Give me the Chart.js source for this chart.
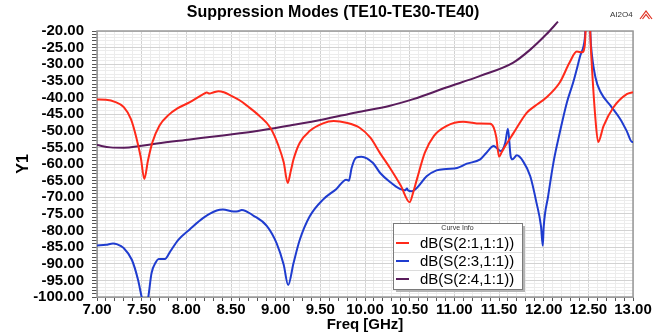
<!DOCTYPE html>
<html><head><meta charset="utf-8">
<script src="https://cdn.jsdelivr.net/npm/chart.js@4/dist/chart.umd.min.js"></script>
<style>html,body{margin:0;padding:0;background:#fff;}canvas{display:block;}</style>
</head><body>
<canvas id="c" width="666" height="335"></canvas>
<script>
const chartTitle = 'Suppression Modes (TE10-TE30-TE40)';
const projectTag = 'AI2O4';
const xAxisTitle = 'Freq [GHz]';
const yAxisTitle = 'Y1';
const legendTitle = 'Curve Info';
const seriesNames = ['dB(S(2:1,1:1))', 'dB(S(2:3,1:1))', 'dB(S(2:4,1:1))'];
const seriesColors = ['#ff2a1a', '#1f3ccf', '#5a1c5c'];

const s21Freq = [7.00,7.10,7.20,7.30,7.38,7.44,7.49,7.53,7.57,7.62,7.70,7.80,7.90,8.04,8.19,8.23,8.26,8.30,8.36,8.42,8.49,8.60,8.68,8.82,8.94,9.03,9.09,9.135,9.17,9.20,9.27,9.38,9.53,9.65,9.79,9.94,10.06,10.17,10.28,10.40,10.50,10.54,10.58,10.67,10.77,10.91,11.10,11.25,11.40,11.44,11.47,11.50,11.53,11.57,11.66,11.81,11.90,12.03,12.18,12.29,12.37,12.43,12.46,12.48,12.51,12.53,12.58,12.61,12.67,12.78,12.93,13.00];
const s21dB   = [-40.6,-40.7,-41.3,-42.9,-46.5,-52.0,-58.0,-64.5,-59.0,-53.5,-48.4,-45.3,-43.3,-41.4,-39.0,-38.5,-38.8,-38.5,-38.1,-38.4,-39.3,-40.9,-42.5,-45.6,-49.1,-54.4,-59.5,-65.7,-62.0,-58.6,-53.6,-50.1,-47.8,-47.1,-47.6,-49.1,-52.1,-56.8,-61.2,-66.5,-71.5,-68.5,-64.7,-56.6,-51.6,-48.6,-47.3,-47.8,-47.9,-49.0,-52.0,-57.8,-56.5,-54.6,-50.8,-44.6,-42.6,-40.0,-35.5,-29.5,-26.2,-26.4,-24.4,-15.0,-15.0,-26.0,-46.6,-53.4,-48.6,-43.0,-39.0,-38.4];

const s31Freq = [7.00,7.10,7.18,7.22,7.30,7.39,7.46,7.50,7.53,7.56,7.575,7.61,7.66,7.69,7.76,7.82,7.91,8.04,8.19,8.34,8.41,8.53,8.58,8.62,8.75,8.90,9.01,9.09,9.14,9.20,9.27,9.38,9.53,9.68,9.79,9.82,9.85,9.90,9.96,10.09,10.17,10.28,10.39,10.45,10.47,10.48,10.52,10.58,10.69,10.80,10.91,11.03,11.14,11.29,11.36,11.44,11.47,11.52,11.57,11.60,11.63,11.65,11.70,11.77,11.85,11.92,11.97,11.99,12.00,12.05,12.11,12.18,12.26,12.33,12.41,12.46,12.48,12.51,12.53,12.58,12.64,12.75,12.86,12.93,12.99,13.00];
const s31dB   = [-84.5,-84.3,-83.9,-84.1,-85.3,-88.8,-94.9,-100.0,-103.0,-102.0,-99.9,-92.9,-89.5,-88.6,-88.6,-86.3,-82.8,-79.6,-76.2,-74.0,-73.7,-74.3,-74.2,-73.8,-75.5,-78.6,-83.8,-90.3,-96.4,-89.8,-82.8,-75.8,-70.7,-67.5,-64.7,-65.0,-61.2,-58.1,-57.8,-59.7,-62.7,-65.4,-67.5,-67.9,-67.4,-67.9,-68.2,-67.2,-63.7,-61.9,-61.5,-61.2,-59.9,-58.6,-56.6,-54.6,-55.1,-56.1,-53.6,-49.4,-57.6,-58.6,-57.4,-59.2,-63.7,-71.7,-78.7,-84.6,-79.0,-69.7,-59.5,-50.6,-41.5,-35.5,-27.4,-22.4,-15.0,-15.0,-24.4,-34.0,-38.5,-42.5,-46.6,-50.1,-53.4,-53.4];

const s41Freq = [7.00,7.15,7.30,7.48,7.67,8.04,8.41,8.79,9.16,9.53,9.90,10.28,10.54,10.91,11.29,11.66,11.85,12.03,12.16];
const s41dB   = [-54.3,-55.0,-55.1,-54.6,-53.8,-52.6,-51.4,-50.1,-48.4,-46.6,-44.5,-42.5,-40.5,-37.0,-33.5,-29.5,-25.6,-21.0,-17.2];

const xMin = 7, xMax = 13, xMajor = 0.5, xMinor = 0.1;
const yMin = -100, yMax = -20, yMajor = 5, yMinor = 1;

const FONT = "'Liberation Sans', Arial, sans-serif";
const toPts = (fx, fy) => fx.map((f, i) => ({x: f, y: fy[i]}));
const isMajor = (v, step) => Math.abs(v / step - Math.round(v / step)) < 1e-6;

const frameAndText = {
  id: 'frameAndText',
  beforeDatasetsDraw(chart) {
    const {ctx, chartArea: a} = chart;
    ctx.save();
    ctx.strokeStyle = '#9a9a9a';
    ctx.lineWidth = 1.5;
    ctx.strokeRect(a.left, a.top, a.right - a.left, a.bottom - a.top);
    ctx.restore();
  },
  afterDraw(chart) {
    const {ctx} = chart;
    ctx.save();
    ctx.fillStyle = '#000';
    ctx.font = 'bold 16px ' + FONT;
    ctx.textAlign = 'center';
    ctx.textBaseline = 'middle';
    ctx.fillText(chartTitle, chart.width / 2, 13);
    ctx.font = '8px ' + FONT;
    ctx.textAlign = 'left';
    ctx.fillStyle = '#333';
    ctx.fillText(projectTag, 610, 15);
    // small logo
    ctx.strokeStyle = '#e03020';
    ctx.lineWidth = 1.2;
    ctx.beginPath();
    ctx.moveTo(640, 19); ctx.lineTo(646, 11); ctx.lineTo(652, 19);
    ctx.moveTo(642.5, 19); ctx.lineTo(646, 14.5); ctx.lineTo(649.5, 19);
    ctx.stroke();
    // legend box (Curve Info)
    const bx = 393, by = 223, bw = 129, bh = 66;
    ctx.fillStyle = '#b4b4b4';
    ctx.fillRect(bx + 3, by + 3, bw, bh);
    ctx.fillStyle = '#fff';
    ctx.fillRect(bx, by, bw, bh);
    ctx.strokeStyle = '#7a7a7a';
    ctx.lineWidth = 1;
    ctx.strokeRect(bx + 0.5, by + 0.5, bw, bh);
    ctx.fillStyle = '#333';
    ctx.font = '7px ' + FONT;
    ctx.textAlign = 'center';
    ctx.fillText(legendTitle, bx + bw / 2, by + 5.5);
    ctx.strokeStyle = '#dcdcdc';
    [234, 252, 270].forEach(yy => {
      ctx.beginPath(); ctx.moveTo(bx + 1, yy + 0.5); ctx.lineTo(bx + bw, yy + 0.5); ctx.stroke();
    });
    chart.data.datasets.forEach((ds, i) => {
      const cy = 243 + i * 18;
      ctx.strokeStyle = ds.borderColor;
      ctx.lineWidth = 2;
      ctx.beginPath(); ctx.moveTo(396, cy); ctx.lineTo(409, cy); ctx.stroke();
      ctx.fillStyle = '#000';
      ctx.font = '15px ' + FONT;
      ctx.textAlign = 'left';
      ctx.fillText(ds.label, 420, cy + 1);
    });
    ctx.restore();
  }
};

new Chart(document.getElementById('c'), {
  type: 'line',
  data: {
    datasets: [
      {label: seriesNames[0], data: toPts(s21Freq, s21dB), borderColor: seriesColors[0]},
      {label: seriesNames[1], data: toPts(s31Freq, s31dB), borderColor: seriesColors[1]},
      {label: seriesNames[2], data: toPts(s41Freq, s41dB), borderColor: seriesColors[2],
       clip: {left: 0, top: 10, right: 0, bottom: 0}}
    ]
  },
  options: {
    responsive: false,
    animation: false,
    devicePixelRatio: 1,
    layout: {padding: {left: 0, right: 33, top: 31, bottom: 0}},
    elements: {
      point: {radius: 0},
      line: {borderWidth: 2, fill: false, cubicInterpolationMode: 'monotone'}
    },
    plugins: {legend: {display: false}, title: {display: false}, tooltip: {enabled: false}},
    scales: {
      x: {
        type: 'linear', min: xMin, max: xMax,
        afterFit: s => { s.height = 38; },
        border: {display: true, color: '#9a9a9a', width: 1},
        grid: {
          color: c => isMajor(c.tick.value, xMajor) ? '#d2d2d2' : '#ececec',
          tickColor: '#555', tickLength: 4, lineWidth: 1
        },
        ticks: {
          stepSize: xMinor, autoSkip: false, maxRotation: 0, maxTicksLimit: 1000, padding: 0,
          color: '#000', font: {family: FONT, size: 15, weight: 'bold'},
          callback: v => isMajor(v, xMajor) ? v.toFixed(2) : ''
        },
        title: {display: true, text: xAxisTitle, color: '#000', font: {family: FONT, size: 15, weight: 'bold'}, padding: {top: 0, bottom: 1}}
      },
      y: {
        type: 'linear', min: yMin, max: yMax,
        afterFit: s => { s.width = 97; },
        border: {display: true, color: '#9a9a9a', width: 1},
        grid: {
          color: c => isMajor(c.tick.value, yMajor) ? '#d2d2d2' : '#ececec',
          tickColor: '#555', tickLength: 5, lineWidth: 1
        },
        ticks: {
          stepSize: yMinor, autoSkip: false, maxTicksLimit: 1000, padding: 8,
          color: '#000', font: {family: FONT, size: 15, weight: 'bold'},
          callback: v => isMajor(v, yMajor) ? v.toFixed(2) : ''
        },
        title: {display: true, text: yAxisTitle, color: '#000', font: {family: FONT, size: 16, weight: 'bold'}, padding: {top: 14, bottom: 0}}
      }
    }
  },
  plugins: [frameAndText]
});
</script>
</body></html>
